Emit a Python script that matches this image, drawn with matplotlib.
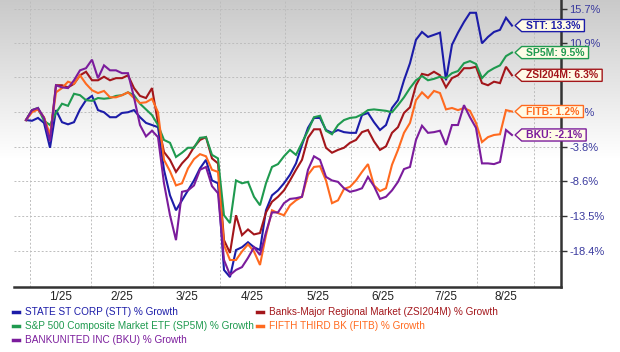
import numpy as np
import matplotlib
matplotlib.use("Agg")
import matplotlib.pyplot as plt
from matplotlib.path import Path
from matplotlib.lines import Line2D

plt.rcParams['font.family'] = ['Liberation Sans', 'DejaVu Sans']

# % growth, one value per sampled session (roughly every 3 trading days)
stt = [0.0, -0.1, 0.3, -0.4, -3.9, 1.4, -0.3, -0.6, -0.3, 1.5, 2.8, 3.4, 1.4, 1.1,
       0.4, 0.4, 1.0, 1.1, 1.4, 0.4, -0.4, -0.7, -1.0, -7.0, -10.6, -12.7, -11.3, -9.9,
       -8.5, -6.8, -5.6, -8.5, -8.9, -21.1, -22.1, -18.3, -17.9, -17.2, -17.9, -18.3, -12.7,
       -10.6, -9.9, -8.9, -7.7, -6.1, -3.5, -1.1, 0.3, 0.3, -1.4, -1.8, -1.4, -1.7, -1.8,
       -1.8, 0.7, 1.0, -0.3, -1.4, -0.7, 1.7, 2.8, 5.6, 8.0, 11.3, 12.4, 11.7, 12.0, 12.3,
       5.6, 10.6, 12.3, 13.8, 15.1, 15.1, 10.8, 11.7, 12.4, 12.7, 14.4, 13.3]
zsi = [0.0, 1.4, 1.5, 0.3, -2.4, 4.9, 4.9, 4.6, 5.1, 6.3, 6.8, 5.6, 5.6, 6.1,
       5.6, 5.9, 5.9, 6.3, 4.5, 3.4, 3.1, 4.5, -0.4, -4.5, -5.6, -7.3, -6.1, -5.2,
       -3.8, -2.8, -2.4, -5.4, -6.1, -16.9, -18.7, -13.4, -16.2, -15.4, -16.1, -15.9, -13.0,
       -11.5, -10.8, -9.9, -8.5, -7.0, -5.6, -2.5, -1.3, -1.3, -3.9, -4.6, -4.2, -3.9, -3.2,
       -2.8, -1.7, -1.4, -3.0, -4.2, -3.7, -1.8, -1.0, 1.0, 1.8, 4.9, 6.5, 6.3, 6.8, 6.3,
       4.6, 5.9, 6.3, 7.3, 7.3, 7.5, 5.2, 4.9, 5.4, 5.2, 7.5, 6.3]
sp5m = [0.0, 1.4, 1.7, -0.1, -0.7, 1.0, 2.3, 2.0, 3.7, 3.5, 2.8, 2.7, 3.1, 3.0,
        3.1, 3.4, 3.5, 3.9, 3.5, 2.3, 1.5, 0.7, -0.7, -2.8, -3.2, -5.2, -4.6, -3.9,
        -3.9, -2.5, -2.4, -4.9, -5.4, -13.4, -14.5, -8.5, -8.9, -8.7, -10.8, -12.0, -8.9,
        -6.6, -6.2, -5.1, -4.2, -4.9, -3.2, -1.5, 0.4, 0.6, -1.5, -2.0, -0.7, 0.0, 0.3,
        0.4, 0.8, 1.4, 1.5, 1.4, 1.3, 1.1, 2.1, 3.2, 4.5, 5.6, 6.2, 5.6, 5.8, 6.1,
        5.9, 6.6, 6.9, 8.0, 8.3, 7.9, 5.9, 6.8, 7.3, 7.7, 9.0, 9.5]
fitb = [0.0, 1.1, 1.5, 0.4, -2.1, 3.9, 4.5, 5.4, 5.1, 6.3, 5.1, 4.2, 3.8, 4.1,
        3.2, 3.2, 3.5, 3.9, 3.1, 2.4, 2.5, 3.0, 1.1, -5.6, -7.2, -9.2, -8.9, -6.8,
        -5.5, -4.8, -5.1, -7.0, -7.3, -17.6, -19.7, -19.7, -18.5, -17.5, -18.5, -20.4, -16.2,
        -12.7, -13.1, -13.4, -12.0, -11.3, -10.8, -7.7, -6.6, -6.5, -8.5, -11.7, -11.3, -9.7, -9.4,
        -8.5, -7.3, -6.2, -9.2, -10.0, -9.6, -6.3, -4.2, -1.8, -0.4, 2.8, 3.9, 3.1, 4.1, 3.8,
        1.5, 1.7, 1.4, 1.7, 1.3, -0.4, -3.1, -2.4, -2.1, -2.0, 1.4, 1.2]
bku = [0.0, 1.4, 1.7, 0.3, -3.0, 4.9, 4.6, 4.5, 5.6, 7.0, 7.3, 8.5, 5.9, 7.7,
       7.0, 7.0, 6.6, 6.6, 3.2, -0.7, -2.3, -1.5, -2.4, -8.9, -13.4, -16.9, -10.1, -9.9,
       -9.2, -7.0, -6.6, -9.3, -10.3, -19.7, -21.8, -21.1, -20.7, -19.4, -17.9, -19.0, -15.8,
       -13.0, -13.0, -11.7, -11.1, -11.0, -10.8, -7.0, -5.1, -5.6, -8.0, -8.5, -8.7, -9.6, -10.1,
       -9.9, -9.6, -8.0, -9.3, -11.1, -10.8, -9.9, -8.7, -6.9, -6.6, -2.8, -0.8, -1.8, -1.7, -1.5,
       -3.5, -0.7, -0.7, 2.1, 0.4, -1.1, -6.1, -6.1, -6.2, -5.9, -1.4, -2.1]

series = [
    ('STATE ST CORP (STT) % Growth', 'STT', stt, '#1c1ca8'),
    ('Banks-Major Regional Market (ZSI204M) % Growth', 'ZSI204M', zsi, '#a3161b'),
    ('S&P 500 Composite Market ETF (SP5M) % Growth', 'SP5M', sp5m, '#1f9a4f'),
    ('FIFTH THIRD BK (FITB) % Growth', 'FITB', fitb, '#ff6a1f'),
    ('BANKUNITED INC (BKU) % Growth', 'BKU', bku, '#7b1c9c'),
]

month_labels = ['1/25', '2/25', '3/25', '4/25', '5/25', '6/25', '7/25', '8/25']
y_ticks = [15.7, 10.9, 6.0, 1.1, -3.8, -8.6, -13.5, -18.4]

session = np.arange(len(stt))
# month boundaries in session units (where the vertical grid sits)
month_edges = [0.67, 10.77, 21.17, 32.33, 43.17, 54.17, 64.83, 75.17, 84.67]
month_mid = [(a + b) / 2 for a, b in zip(month_edges[:-1], month_edges[1:])]


def tag_box(x0, y0, width, height, mutation_size):
    """left pointing tag used for the last value labels"""
    hp = mutation_size * 0.4
    vp = mutation_size * 0.1
    x0, x1 = x0 - hp, x0 + width + hp
    y0, y1 = y0 - vp, y0 + height + vp
    tip = (y1 - y0) * 0.55
    ym = (y0 + y1) / 2
    return Path([(x0 - tip, ym), (x0, y0), (x1, y0), (x1, y1), (x0, y1), (x0 - tip, ym)],
                closed=True)


fig = plt.figure(figsize=(6.2, 3.52), dpi=100)

# grey to white background fade at the top
bg = fig.add_axes([0, 0, 1, 1], zorder=-1)
t = np.linspace(0, 1, 352)
shade = np.clip(0.79 + 0.21 * t / 0.45, 0, 1)
bg.imshow(np.dstack([shade, shade, shade]).reshape(352, 1, 3),
          aspect='auto', extent=[0, 1, 0, 1])
bg.axis('off')

ax = fig.add_axes([14 / 620, 65 / 352, 547 / 620, 287 / 352])
ax.set_facecolor('none')

for name, code, vals, col in series:
    ax.plot(session, vals, color=col, lw=1.5, solid_joinstyle='miter')

ax.set_xlim(-2, 89.17)
ax.set_ylim(-23.5, 16.9)

ax.set_xticks(month_edges)
ax.set_xticklabels([])
ax.set_xticks(month_mid, minor=True)
ax.set_xticklabels(month_labels, minor=True)
ax.tick_params(axis='x', which='both', length=0)
ax.tick_params(axis='x', which='minor', labelsize=8.5, labelcolor='#222222', pad=3)

ax.yaxis.tick_right()
ax.set_yticks(y_ticks)
ax.set_yticklabels(['%.1f%%' % v for v in y_ticks])
ax.tick_params(axis='y', direction='out', length=4, width=1, color='#333333',
               labelcolor='#3a3a9e', labelsize=8, pad=2)

ax.grid(True, color='#bdbdbd', lw=0.7, ls=(0, (2, 2)))
for s in ['top', 'left']:
    ax.spines[s].set_visible(False)
for s in ['right', 'bottom']:
    ax.spines[s].set_color('#333333')
    ax.spines[s].set_linewidth(1.8)

# last value tags
for name, code, vals, col in series:
    ax.annotate('%s: %.1f%%' % (code, vals[-1]), xy=(session[-1], vals[-1]),
                xytext=(10, 0), textcoords='offset points', ha='left', va='center',
                fontsize=7.5, fontweight='bold', color=col, zorder=10,
                annotation_clip=False,
                bbox=dict(boxstyle=tag_box, fc='#fffbe6', ec=col, lw=1))

# legend, two columns filled top to bottom
order = [0, 2, 4, 1, 3]
handles = [Line2D([], [], color=series[i][3], lw=2.5) for i in order]
labels = [series[i][0] for i in order]
fig.legend(handles, labels, loc='upper left', bbox_to_anchor=(13 / 620, 1 - 307 / 352),
           ncol=2, frameon=False, fontsize=7.2, labelcolor='linecolor',
           handlelength=0.6, handletextpad=0.6, columnspacing=0.35,
           labelspacing=0.42, borderpad=0, borderaxespad=0)

fig.savefig('out.png', dpi=100)
